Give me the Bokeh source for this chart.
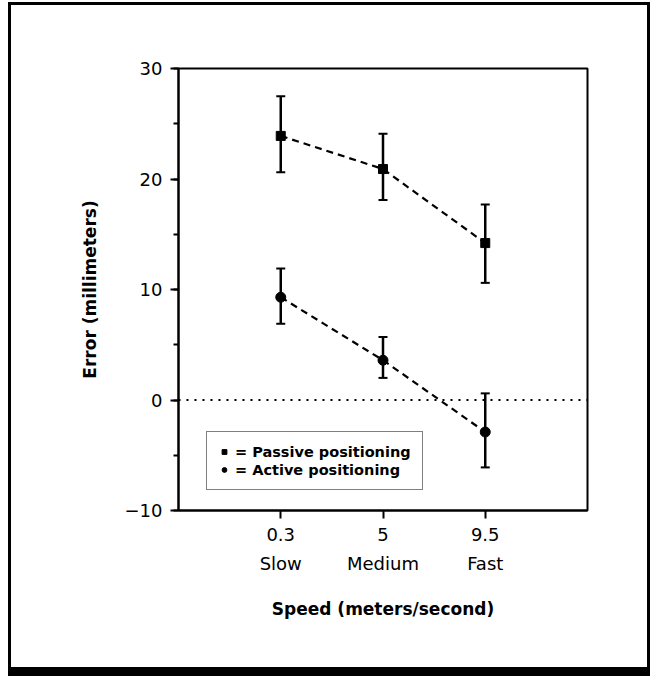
from bokeh.plotting import figure
from bokeh.models import (Range1d, FixedTicker, SingleIntervalTicker, LinearAxis,
                          Whisker, TeeHead, ColumnDataSource, Span, Legend, LegendItem)
from bokeh.embed import file_html
from bokeh.resources import INLINE

# ---- data ----
speeds = ["0.3", "5", "9.5"]
speed_names = ["Slow", "Medium", "Fast"]
passive_mean = [23.9, 20.9, 14.2]
passive_upper = [27.5, 24.1, 17.7]
passive_lower = [20.6, 18.1, 10.6]
active_mean = [9.3, 3.6, -2.9]
active_upper = [11.9, 5.7, 0.6]
active_lower = [6.9, 2.0, -6.1]
y_ticks = [-10, 0, 10, 20, 30]
y_tick_labels = ["\u221210", "0", "10", "20", "30"]

xpos = list(range(1, len(speeds) + 1))

FONT = "DejaVu Sans"

p = figure(width=642, height=674, output_backend="svg", toolbar_location=None,
           x_range=Range1d(0, 4), y_range=Range1d(-10, 30),
           min_border_left=167, min_border_right=66, min_border_top=63, min_border_bottom=169,
           x_axis_type=None, y_axis_type=None,
           styles={"border-style": "solid", "border-color": "black",
                   "border-width": "3px 3px 9px 3px"})
p.margin = (2, 0, -8, 8)
p.xgrid.visible = False
p.ygrid.visible = False
p.outline_line_color = "black"
p.outline_line_width = 2
p.outline_line_alpha = 1
p.background_fill_color = "white"
p.border_fill_color = "white"

# y axis
yax = LinearAxis(ticker=SingleIntervalTicker(interval=10, num_minor_ticks=2))
yax.major_label_overrides = {t: l for t, l in zip(y_ticks, y_tick_labels)}
yax.axis_line_width = 2
yax.major_tick_line_width = 2
yax.minor_tick_line_width = 2
yax.major_tick_out = 8
yax.major_tick_in = 0
yax.minor_tick_out = 5
yax.minor_tick_in = 0
yax.major_label_standoff = 8
yax.major_label_text_font = FONT
yax.major_label_text_font_size = "18px"
yax.major_label_text_color = "black"
yax.axis_label = "Error (millimeters)"
yax.axis_label_text_font = FONT
yax.axis_label_text_font_style = "bold"
yax.axis_label_text_font_size = "17px"
yax.axis_label_text_color = "black"
yax.axis_label_standoff = 22
p.add_layout(yax, "left")

# x axis (numbers)
xax = LinearAxis(ticker=FixedTicker(ticks=xpos, minor_ticks=[]))
xax.major_label_overrides = {x: s for x, s in zip(xpos, speeds)}
xax.axis_line_width = 2
xax.major_tick_line_width = 2
xax.major_tick_out = 8
xax.major_tick_in = 0
xax.minor_tick_line_color = None
xax.major_label_standoff = 9
xax.major_label_text_font = FONT
xax.major_label_text_font_size = "18px"
xax.major_label_text_color = "black"
p.add_layout(xax, "below")

# x axis (names)
xax2 = LinearAxis(ticker=FixedTicker(ticks=xpos, minor_ticks=[]))
xax2.major_label_overrides = {x: s for x, s in zip(xpos, speed_names)}
xax2.axis_line_color = None
xax2.major_tick_line_color = None
xax2.minor_tick_line_color = None
xax2.major_tick_out = 0
xax2.major_label_standoff = 9
xax2.major_label_text_font = FONT
xax2.major_label_text_font_size = "18px"
xax2.major_label_text_color = "black"
xax2.axis_label = "Speed (meters/second)"
xax2.axis_label_text_font = FONT
xax2.axis_label_text_font_style = "bold"
xax2.axis_label_text_font_size = "17px"
xax2.axis_label_text_color = "black"
xax2.axis_label_standoff = 22
p.add_layout(xax2, "below")

# zero reference line
p.add_layout(Span(location=0, dimension="width", line_color="black",
                  line_width=2, line_dash="2 6"))

src_p = ColumnDataSource(dict(x=xpos, y=passive_mean, up=passive_upper, lo=passive_lower))
src_a = ColumnDataSource(dict(x=xpos, y=active_mean, up=active_upper, lo=active_lower))

for src in (src_p, src_a):
    p.line("x", "y", source=src, line_color="black", line_width=2.2, line_dash="7 5")
    p.add_layout(Whisker(base="x", upper="up", lower="lo", source=src,
                         line_color="black", line_width=2.5,
                         upper_head=TeeHead(size=9, line_width=2, line_color="black"),
                         lower_head=TeeHead(size=9, line_width=2, line_color="black")))

r_p = p.scatter("x", "y", source=src_p, marker="square", size=9,
                fill_color="black", line_color="black")
r_a = p.scatter("x", "y", source=src_a, marker="circle", size=10,
                fill_color="black", line_color="black")

legend = Legend(items=[LegendItem(label="= Passive positioning", renderers=[r_p]),
                       LegendItem(label="= Active positioning", renderers=[r_a])],
                location=(28, 20))
legend.label_text_font = FONT
legend.label_text_font_style = "bold"
legend.label_text_font_size = "14.5px"
legend.label_text_color = "black"
legend.label_height = 17
legend.label_standoff = 5
legend.glyph_width = 12
legend.glyph_height = 17
legend.spacing = 1
legend.padding = 11
legend.margin = 0
legend.border_line_color = "black"
legend.border_line_width = 1.5
legend.background_fill_alpha = 1
p.add_layout(legend, "center")

open("out.html", "w").write(file_html(p, INLINE))
